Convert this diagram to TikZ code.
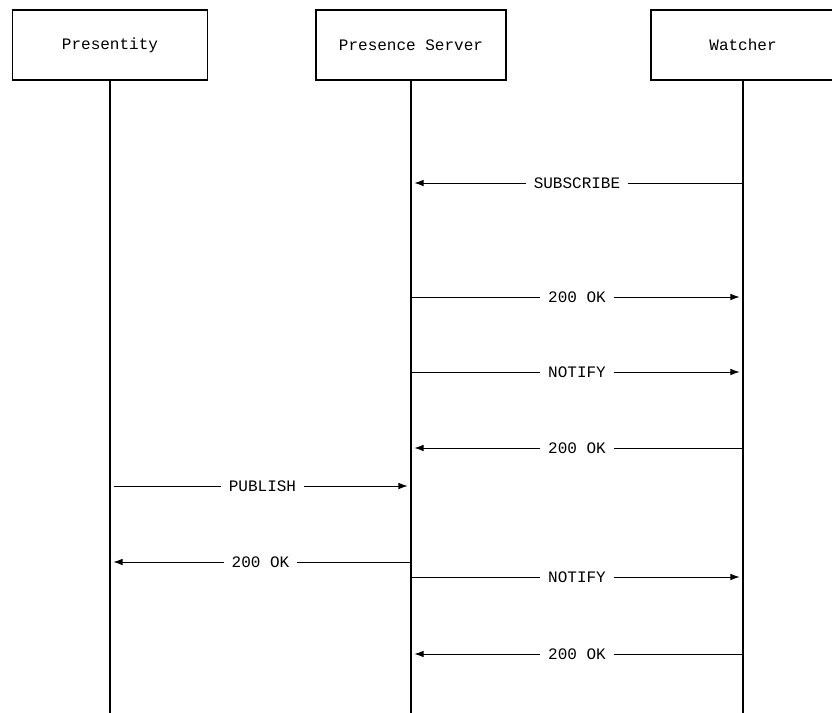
\documentclass[tikz,border=0pt]{standalone}
\usepackage{fontspec}
\setmonofont{Liberation Mono}
\usetikzlibrary{arrows.meta,positioning}

\begin{document}
\begin{tikzpicture}[x=0.75pt, y=-0.75pt,
    actor/.style={draw, line width=0.8pt, minimum width=#1, minimum height=52.5pt,
      font=\ttfamily\fontsize{12pt}{14pt}\selectfont},
    life/.style={line width=0.8pt},
    msg/.style={line width=0.7pt, -{Latex[length=7pt,width=5pt]}, shorten >=2.5pt},
    lbl/.style={fill=white, inner xsep=6pt, inner ysep=1pt,
      font=\ttfamily\fontsize{12pt}{14pt}\selectfont}]
    \useasboundingbox (0,0) rectangle (832,713);
    \clip (0,0) rectangle (832,713);
    % actors
    \node[actor=146.25pt] (pres) at (110,45) {Presentity};
    \node[actor=142.5pt] (srv) at (411,45) {Presence Server};
    \node[actor=138pt] (wat) at (743,45) {Watcher};
    \coordinate (presend) at (110,713);
    \coordinate (srvend) at (411,713);
    \coordinate (watend) at (743,713);
    \draw[life] (pres.south) -- (presend);
    \draw[life] (srv.south) -- (srvend);
    \draw[life] (wat.south) -- (watend);
    % messages
    \coordinate (w1) at (743,183);  \coordinate (s1) at (411,183);
    \coordinate (s2) at (411,297);  \coordinate (w2) at (743,297);
    \coordinate (s3) at (411,372);  \coordinate (w3) at (743,372);
    \coordinate (w4) at (743,448);  \coordinate (s4) at (411,448);
    \coordinate (p5) at (114,486);  \coordinate (s5) at (411,486);
    \coordinate (s6) at (411,562);  \coordinate (p6) at (110,562);
    \coordinate (s7) at (411,577);  \coordinate (w7) at (743,577);
    \coordinate (w8) at (743,654);  \coordinate (s8) at (411,654);
    \draw[msg] (w1) -- node[lbl] (m1) {SUBSCRIBE} (s1);
    \draw[msg] (s2) -- node[lbl] (m2) {200 OK} (w2);
    \draw[msg] (s3) -- node[lbl] (m3) {NOTIFY} (w3);
    \draw[msg] (w4) -- node[lbl] (m4) {200 OK} (s4);
    \draw[msg] (p5) -- node[lbl] (m5) {PUBLISH} (s5);
    \draw[msg] (s6) -- node[lbl] (m6) {200 OK} (p6);
    \draw[msg] (s7) -- node[lbl] (m7) {NOTIFY} (w7);
    \draw[msg] (w8) -- node[lbl] (m8) {200 OK} (s8);
\end{tikzpicture}
\end{document}
